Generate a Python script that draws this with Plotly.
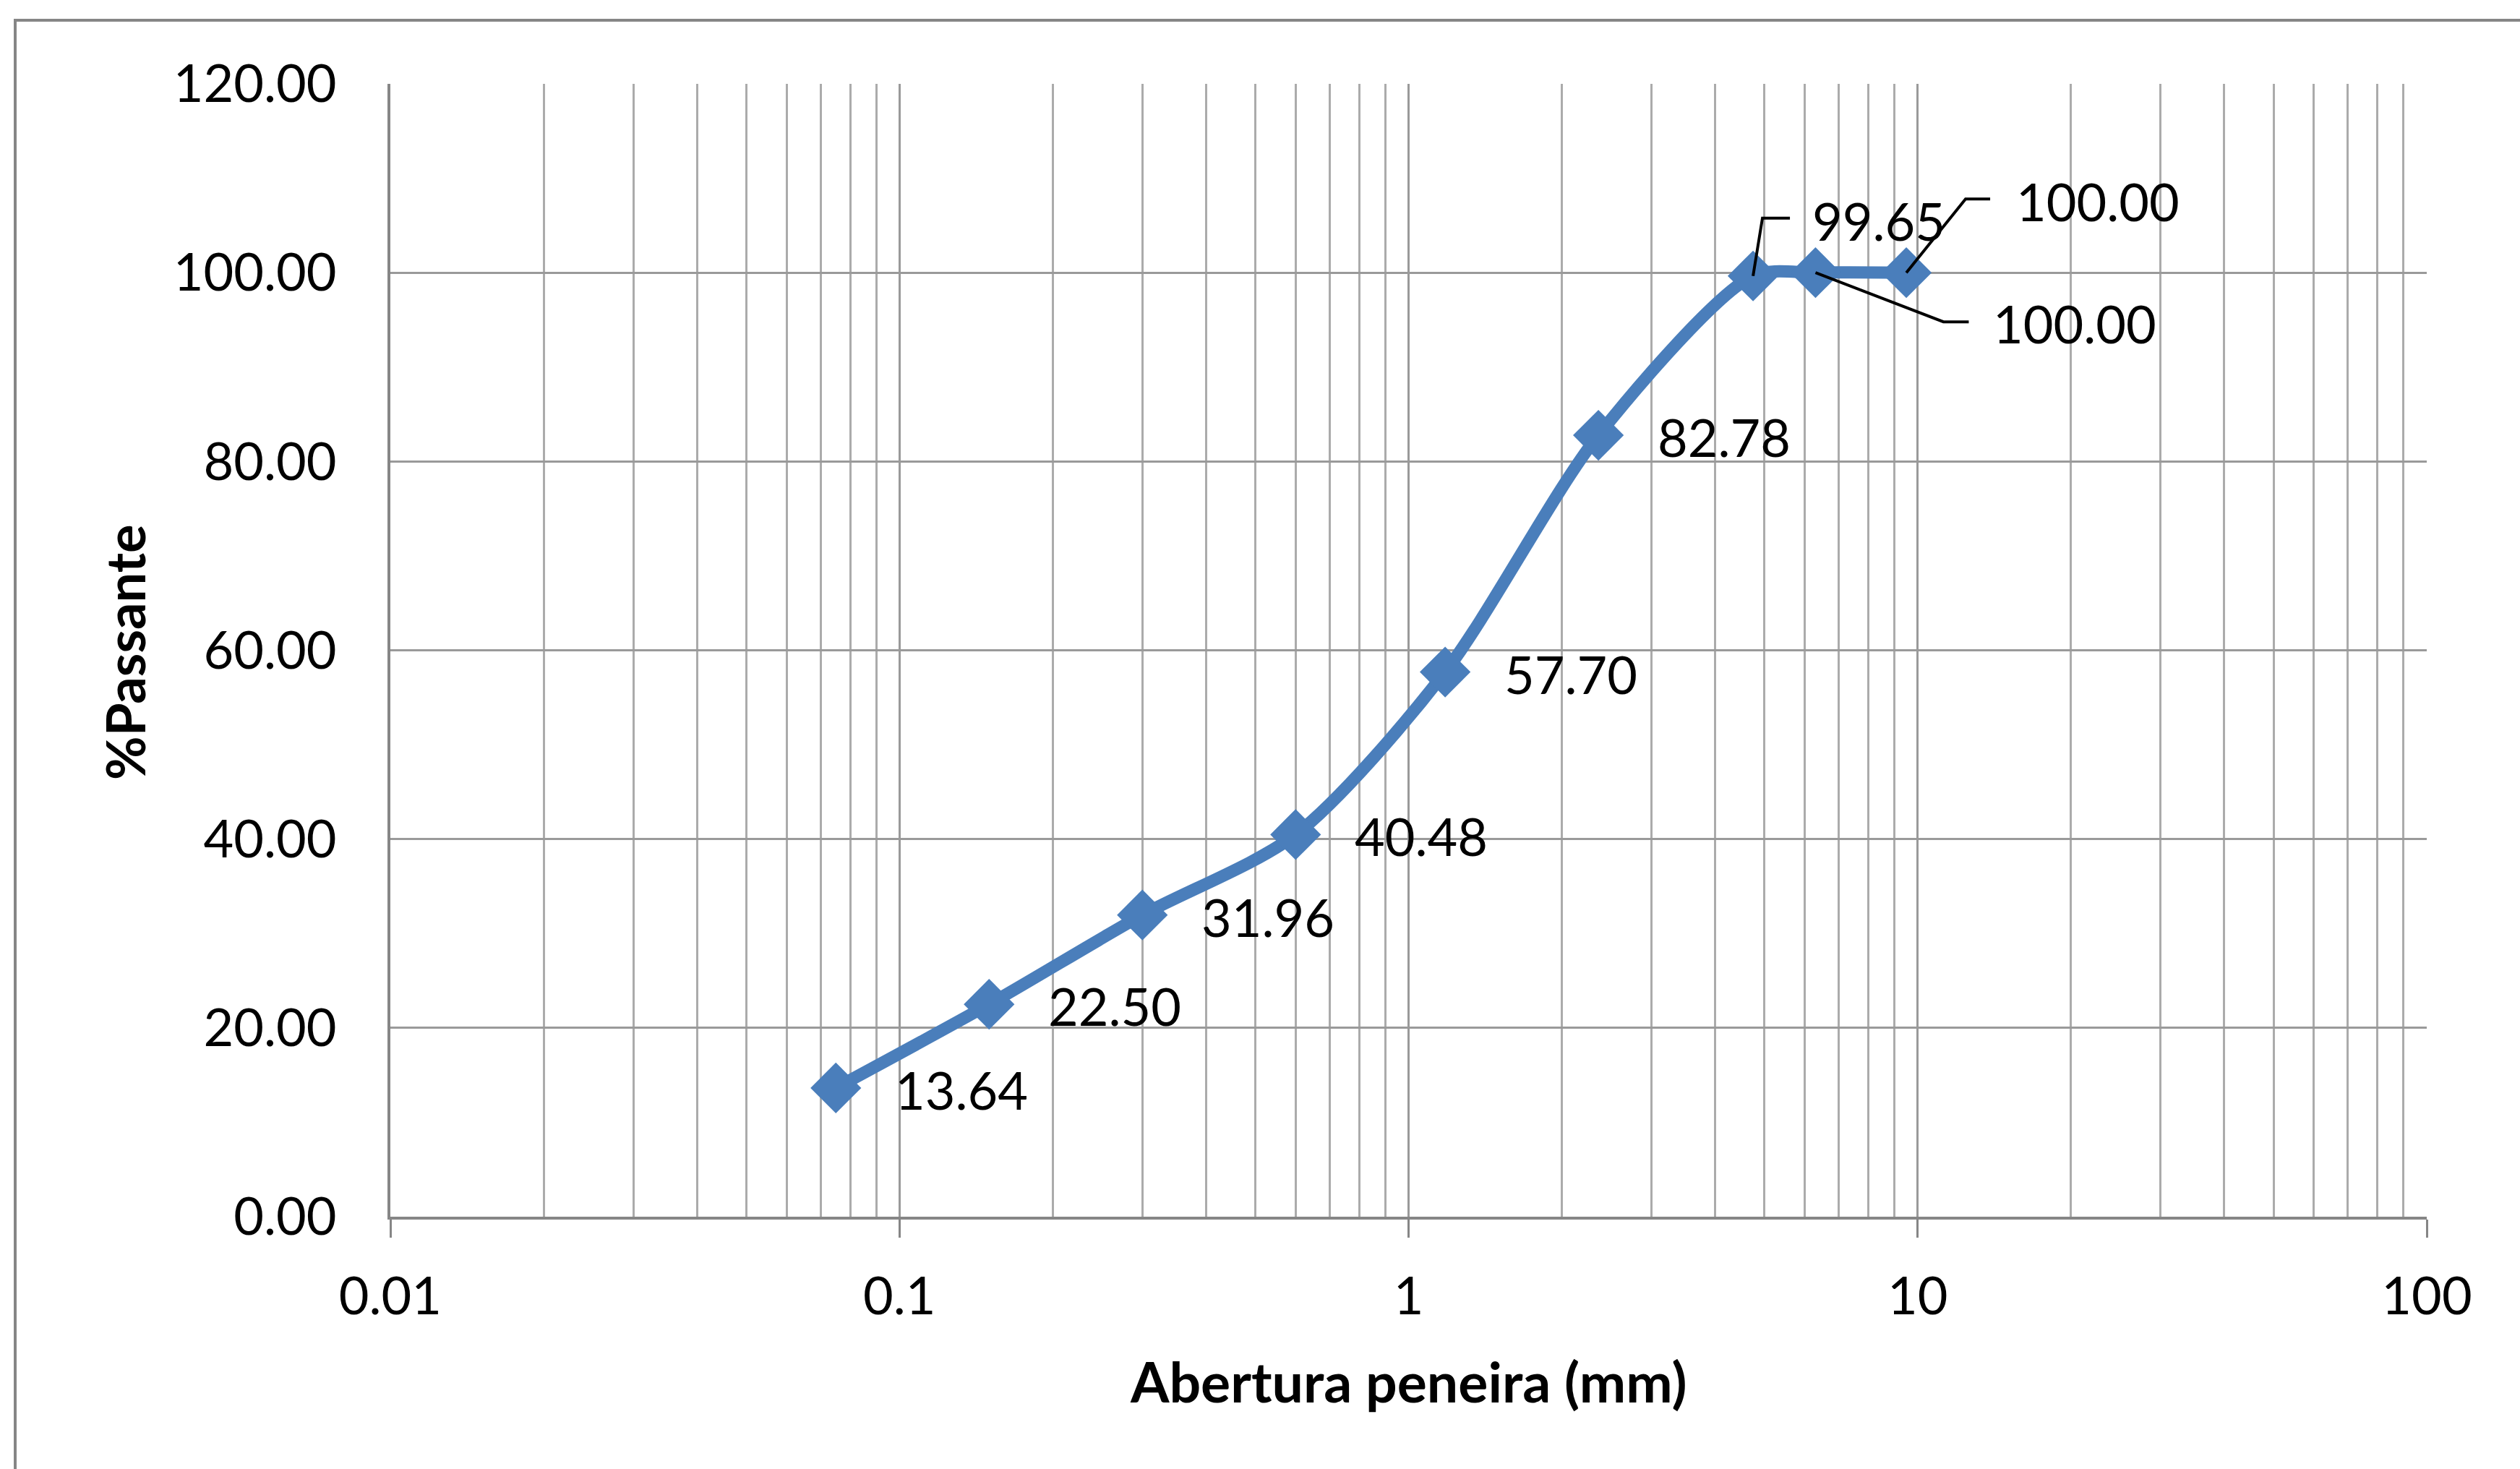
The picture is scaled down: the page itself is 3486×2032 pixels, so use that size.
import numpy as np
import plotly.graph_objects as go

# ---- data ----
abertura_mm = [0.075, 0.15, 0.3, 0.6, 1.18, 2.36, 4.75, 6.3, 9.5]
passante = [13.64, 22.50, 31.96, 40.48, 57.70, 82.78, 99.65, 100.00, 100.00]
x_tick_vals = [0.01, 0.1, 1, 10, 100]
x_tick_text = ["0.01", "0.1", "1", "10", "100"]
y_tick_vals = [0, 20, 40, 60, 80, 100, 120]

# ---- layout constants (pixels) ----
W, H = 3486, 2032
ML, MR, MT, MB = 540, 129, 116, 349
PW, PH = W - ML - MR, H - MT - MB
X_RANGE = (-2, 2)
Y_RANGE = (0, 120)
px_per_dec = PW / (X_RANGE[1] - X_RANGE[0])
px_per_unit = PH / (Y_RANGE[1] - Y_RANGE[0])

FONT = "Lato, 'Open Sans', sans-serif"
BLUE = "#4A7EBB"
GRID_MAJ = "#9a9a9a"
GRID_MIN = "#ababab"
AXIS = "#868686"
LABEL_SIZE = 72

def off(x, y, dx, dy):
    """point shifted by pixel offsets (dx right, dy down) through the axis scales"""
    return x * 10 ** (dx / px_per_dec), y - dy / px_per_unit

fig = go.Figure()

fig.add_trace(go.Scatter(
    x=abertura_mm, y=passante, mode="lines+markers",
    line=dict(color=BLUE, width=17, shape="spline", smoothing=0.8),
    marker=dict(symbol="diamond", size=54, color=BLUE),
    showlegend=False, hoverinfo="x+y",
))

# data labels: standard ones to the right of the point
annotations = []
for xv, yv in zip(abertura_mm[:6], passante[:6]):
    annotations.append(dict(
        x=np.log10(xv), y=yv, xref="x", yref="y", text=f"{yv:.2f}",
        showarrow=False, xanchor="left", yanchor="middle", xshift=80, yshift=-2,
        font=dict(family=FONT, size=LABEL_SIZE, color="black"),
    ))

# labels with leader lines (pixel offsets: kink, end of horizontal, label left, label center)
leader_specs = [
    (6, (13, -80), (51, -80), (80, -77)),
    (7, (177, 68), (212, 68), (244, 70)),
    (8, (82, -102), (116, -102), (150, -99)),
]
for idx, kink, end, lab in leader_specs:
    xv, yv = abertura_mm[idx], passante[idx]
    k = off(xv, yv, *kink)
    e = off(xv, yv, *end)
    fig.add_trace(go.Scatter(
        x=[xv, k[0], e[0]], y=[yv, k[1], e[1]], mode="lines",
        line=dict(color="black", width=4), showlegend=False, hoverinfo="skip",
    ))
    lx, ly = off(xv, yv, *lab)
    annotations.append(dict(
        x=np.log10(lx), y=ly, xref="x", yref="y", text=f"{yv:.2f}",
        showarrow=False, xanchor="left", yanchor="middle",
        font=dict(family=FONT, size=LABEL_SIZE, color="black"),
    ))

# axis titles
annotations.append(dict(
    x=0.5, y=(MT + PH - 1910) / PH, xref="paper", yref="paper",
    text="<b>Abertura peneira (mm)</b>", showarrow=False,
    xanchor="center", yanchor="middle",
    font=dict(family=FONT, size=77, color="black"),
))
annotations.append(dict(
    x=(172 - ML) / PW, y=(MT + PH - 903) / PH, xref="paper", yref="paper",
    text="<b>%Passante</b>", showarrow=False, textangle=-90,
    xanchor="center", yanchor="middle",
    font=dict(family=FONT, size=74, color="black"),
))

fig.update_layout(
    width=W, height=H, autosize=False,
    margin=dict(l=ML, r=MR, t=MT, b=MB, pad=0),
    paper_bgcolor="white", plot_bgcolor="white",
    annotations=annotations,
    shapes=[dict(
        type="rect", xref="paper", yref="paper",
        x0=(21 - ML) / PW, x1=1.3, y0=-0.4, y1=(MT + PH - 28) / PH,
        line=dict(color=AXIS, width=4), fillcolor="rgba(0,0,0,0)", layer="below",
    )],
)

fig.update_xaxes(
    type="log", range=list(X_RANGE),
    tickvals=x_tick_vals, ticktext=x_tick_text,
    ticks="outside", ticklen=25, tickwidth=3, tickcolor=AXIS,
    showline=True, linecolor=AXIS, linewidth=4,
    showgrid=True, gridcolor=GRID_MAJ, gridwidth=3,
    minor=dict(showgrid=True, gridcolor=GRID_MIN, gridwidth=3, dtick="D1", ticks=""),
    tickfont=dict(family=FONT, size=LABEL_SIZE, color="black"),
    ticklabelstandoff=20,
    zeroline=False,
)
fig.update_yaxes(
    range=list(Y_RANGE), tickvals=y_tick_vals, tickformat=".2f",
    ticks="", showline=True, linecolor=AXIS, linewidth=4,
    showgrid=True, gridcolor=GRID_MAJ, gridwidth=3,
    tickfont=dict(family=FONT, size=LABEL_SIZE, color="black"),
    ticklabelstandoff=56,
    zeroline=False,
)

fig.write_html("out.html")
